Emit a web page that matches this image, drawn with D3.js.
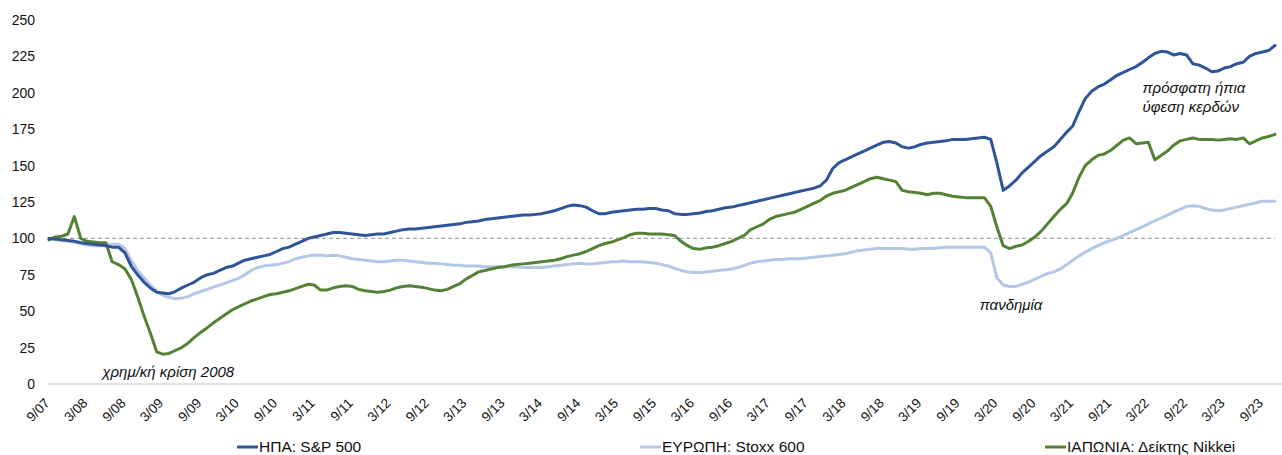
<!DOCTYPE html>
<html>
<head>
<meta charset="utf-8">
<script src="https://cdn.jsdelivr.net/npm/d3@7"></script>
<style>
  html, body { margin: 0; padding: 0; background: #fff; }
  svg { display: block; font-family: "Liberation Sans", Arial, sans-serif; }
</style>
</head>
<body>
<svg id="chart" width="1282" height="455"></svg>
<script>
// Monthly observations, Sep 2007 – Nov 2023 (index, 9/07 = 100)
const firstMonth = "2007-09-01";
const lastMonth = "2023-11-01";

const spx = [
  100, 99.5, 99, 98.5, 98, 97, 96.5, 96, 95.5, 95, 94, 94,
  90, 81, 75, 70, 66, 63, 62.5, 62, 63.5, 66, 68, 70,
  73, 75, 76, 78, 80, 81, 83, 85, 86, 87, 88, 89,
  91, 93, 94, 96, 98, 100, 101, 102, 103, 104, 104, 103.5,
  103, 102.5, 102, 102.5, 103, 103, 104, 105, 106, 106.5, 106.5, 107,
  107.5, 108, 108.5, 109, 109.5, 110, 111, 111.5, 112, 113, 113.5, 114,
  114.5, 115, 115.5, 116, 116, 116.5, 117, 118, 119, 120.5, 122, 123,
  122.5, 121.5, 119, 117, 117, 118, 118.5, 119, 119.5, 120, 120, 120.5,
  120.5, 119.5, 119, 117, 116.5, 116.5, 117, 117.5, 118.5, 119, 120, 121,
  121.5, 122.5, 123.5, 124.5, 125.5, 126.5, 127.5, 128.5, 129.5, 130.5, 131.5, 132.5,
  133.5, 134.5, 136, 140, 148, 152, 154, 156, 158, 160, 162, 164,
  166, 166.5, 165.5, 163, 162, 163, 164.5, 165.5, 166, 166.5, 167, 168,
  168, 168, 168.5, 169, 169.5, 168, 152, 133, 136, 140, 145, 149,
  153, 157, 160, 163, 168, 173, 177, 187, 196, 201, 204, 206,
  209, 212, 214, 216, 218, 221, 224, 227, 228.5, 228, 226, 227,
  226, 220, 219, 217, 214.5, 215, 217, 218, 220, 221, 225, 227,
  228, 229, 232.5
];

const stoxx = [
  100, 99, 98.5, 98, 97.5, 96.5, 95.5, 95, 95, 95.5, 96, 96,
  93, 85, 78, 73, 68, 64, 61, 59.5, 58.5, 59, 60, 62,
  63.5, 65, 66.5, 68, 69.5, 71, 72.5, 75, 78, 80, 81, 81.5,
  82, 83, 84, 86, 87, 88, 88.5, 88.5, 88, 88.5, 88, 87,
  86, 85.5, 85, 84.5, 84, 84, 84.5, 85, 85, 84.5, 84, 83.5,
  83, 83, 82.5, 82, 81.5, 81.5, 81, 81, 81, 80.5, 80.5, 80.5,
  80.5, 80.5, 80.5, 80, 80, 80, 80, 80.5, 81, 81.5, 82, 82.5,
  83, 82.5, 82.5, 83, 83.5, 84, 84, 84.5, 84, 84, 84, 83.5,
  83, 82, 81, 79.5, 78, 77, 76.5, 76.5, 77, 77.5, 78, 78.5,
  79, 80, 81.5, 83, 84, 84.5, 85, 85.5, 85.5, 86, 86, 86,
  86.5, 87, 87.5, 88, 88.5, 89, 89.5, 90.5, 91.5, 92, 92.5, 93,
  93, 93, 93, 93, 92.5, 92.5, 93, 93, 93, 93.5, 94, 94,
  94, 94, 94, 94, 94, 90, 73, 68, 67, 67, 68.5, 70,
  72, 74, 76, 77, 79, 82, 85, 88, 90.5, 93, 95, 97,
  98.5, 100, 102, 104, 106, 108, 110, 112, 114, 116, 118, 120,
  122, 122.5, 122, 120.5, 119.5, 119, 119.5, 120.5, 121.5, 122.5, 123.5, 124.5,
  125.5, 125.5, 125.5
];

const nikkei = [
  99, 101, 101.5, 103, 115, 100, 98, 97.5, 97, 97, 84, 82,
  79, 72, 60, 47, 35, 22, 20.5, 21, 23, 25, 28, 32,
  35.5, 38.5, 42, 45, 48, 51, 53, 55, 57, 58.5, 60, 61.5,
  62, 63, 64, 65.5, 67, 68.5, 68, 64.5, 64.5, 66, 67, 67.5,
  67, 65, 64, 63.5, 63, 63.5, 64.5, 66, 67, 67.5, 67, 66.5,
  65.5, 64.5, 64, 65, 67, 69, 72, 74.5, 77, 78, 79, 80,
  80.5, 81.5, 82, 82.5, 83, 83.5, 84, 84.5, 85, 86, 87.5, 88.5,
  89.5, 91, 93, 95, 96.5, 97.5, 99, 100.5, 102.5, 103.5, 103.5, 103,
  103, 103, 102.5, 102, 98, 95, 93, 92.5, 93.5, 94, 95, 96.5,
  98, 100, 102, 106, 108, 110, 113, 115, 116, 117, 118, 120,
  122, 124, 126, 129, 131, 132, 133, 135, 137, 139, 141, 142,
  141, 140, 139, 133, 132, 131.5, 131, 130, 131, 131, 130, 129,
  128.5, 128, 128, 128, 128, 122, 108, 95, 93, 94.5, 95.5, 98,
  101, 105, 110, 115, 120, 124, 131, 142, 150, 154, 157, 158,
  160.5, 164, 167.5, 169, 165, 165.5, 166, 154, 157, 160, 164, 167,
  168, 169, 168, 168, 168, 167.5, 168, 168.5, 168, 169, 165, 167,
  169, 170, 171.5
];

const seriesNames = ["ΗΠΑ: S&P 500", "ΕΥΡΩΠΗ: Stoxx 600", "ΙΑΠΩΝΙΑ: Δείκτης Nikkei"];
const seriesColors = ["#2F5597", "#B4C7E7", "#548235"];
const yTicks = [0, 25, 50, 75, 100, 125, 150, 175, 200, 225, 250];
const baseline = 100;

const notes = [
  { lines: ["χρημ/κή κρίση 2008"], date: "2008-05-15", value: 5 },
  { lines: ["πανδημία"], date: "2019-12-10", value: 51 },
  { lines: ["πρόσφατη ήπια", "ύφεση κερδών"], date: "2022-02-01", value: 200 }
];

const parse = d3.utcParse("%Y-%m-%d");
const months = d3.utcMonth.range(parse(firstMonth), d3.utcMonth.offset(parse(lastMonth), 1));

const svg = d3.select("#chart");
const W = 1282, H = 455;
const plot = { left: 49, right: 1275, top: 20, bottom: 384 };

const x = d3.scaleUtc()
  .domain([parse(firstMonth), parse(lastMonth)])
  .range([plot.left, plot.right]);
const y = d3.scaleLinear().domain([0, 250]).range([plot.bottom, plot.top]);

svg.append("rect").attr("width", W).attr("height", H).attr("fill", "#fff");

// y axis labels (no axis line, no gridlines)
const yAxis = d3.axisLeft(y).tickValues(yTicks).tickSize(0).tickPadding(0);
svg.append("g")
  .attr("transform", "translate(35,0)")
  .call(yAxis)
  .call(g => g.select(".domain").remove())
  .call(g => g.selectAll("text")
    .attr("font-size", 14)
    .attr("font-family", "Liberation Sans, Arial, sans-serif")
    .attr("fill", "#111"));

// x axis: baseline plus rotated half-year labels starting at 9/07
const xTicks = d3.utcMonth.range(parse(firstMonth), d3.utcDay.offset(parse(lastMonth), 1), 6);
const fmt = d => `${d.getUTCMonth() + 1}/${d3.utcFormat("%y")(d)}`;
const xAxis = d3.axisBottom(x).tickValues(xTicks).tickFormat(fmt).tickSize(0).tickSizeOuter(0);
const gx = svg.append("g")
  .attr("transform", `translate(0,${plot.bottom})`)
  .call(xAxis);
gx.select(".domain")
  .attr("d", `M${plot.left - 1},0H${W}`)
  .attr("stroke", "#D9D9D9")
  .attr("stroke-width", 1.3);
gx.selectAll(".tick text")
  .attr("font-size", 13.5)
  .attr("font-family", "Liberation Sans, Arial, sans-serif")
  .attr("fill", "#111")
  .attr("text-anchor", "end")
  .attr("dy", null)
  .attr("y", 0)
  .attr("transform", "translate(1,20) rotate(-45)");

// reference level at 100
svg.append("line")
  .attr("x1", plot.left).attr("x2", plot.right)
  .attr("y1", y(baseline)).attr("y2", y(baseline))
  .attr("stroke", "#A6A6A6")
  .attr("stroke-width", 1.2)
  .attr("stroke-dasharray", "4,3");

// series lines
const allSeries = [spx, stoxx, nikkei];
const line = d3.line()
  .x((d, i) => x(months[i]))
  .y(d => y(d))
  .curve(d3.curveLinear);

[1, 2, 0].forEach(k => {
  svg.append("path")
    .datum(allSeries[k])
    .attr("fill", "none")
    .attr("stroke", seriesColors[k])
    .attr("stroke-width", 3)
    .attr("stroke-linejoin", "round")
    .attr("stroke-linecap", "round")
    .attr("d", line);
});

// annotations
notes.forEach(n => {
  const t = svg.append("text")
    .attr("x", x(parse(n.date)))
    .attr("y", y(n.value))
    .attr("font-size", 15)
    .attr("font-style", "italic")
    .attr("fill", "#111");
  n.lines.forEach((s, i) => {
    t.append("tspan")
      .attr("x", x(parse(n.date)))
      .attr("dy", i === 0 ? 0 : 19)
      .text(s);
  });
});

// legend
const legendX = [237, 640, 1045];
const legendY = 447;
seriesNames.forEach((name, k) => {
  const g = svg.append("g").attr("transform", `translate(${legendX[k]},${legendY})`);
  g.append("line")
    .attr("x1", 0).attr("x2", 21).attr("y1", 0).attr("y2", 0)
    .attr("stroke", seriesColors[k]).attr("stroke-width", 3);
  g.append("text")
    .attr("x", 22).attr("y", 0).attr("dy", "0.35em")
    .attr("font-size", 15.5)
    .attr("fill", "#111")
    .text(name);
});
</script>
</body>
</html>
